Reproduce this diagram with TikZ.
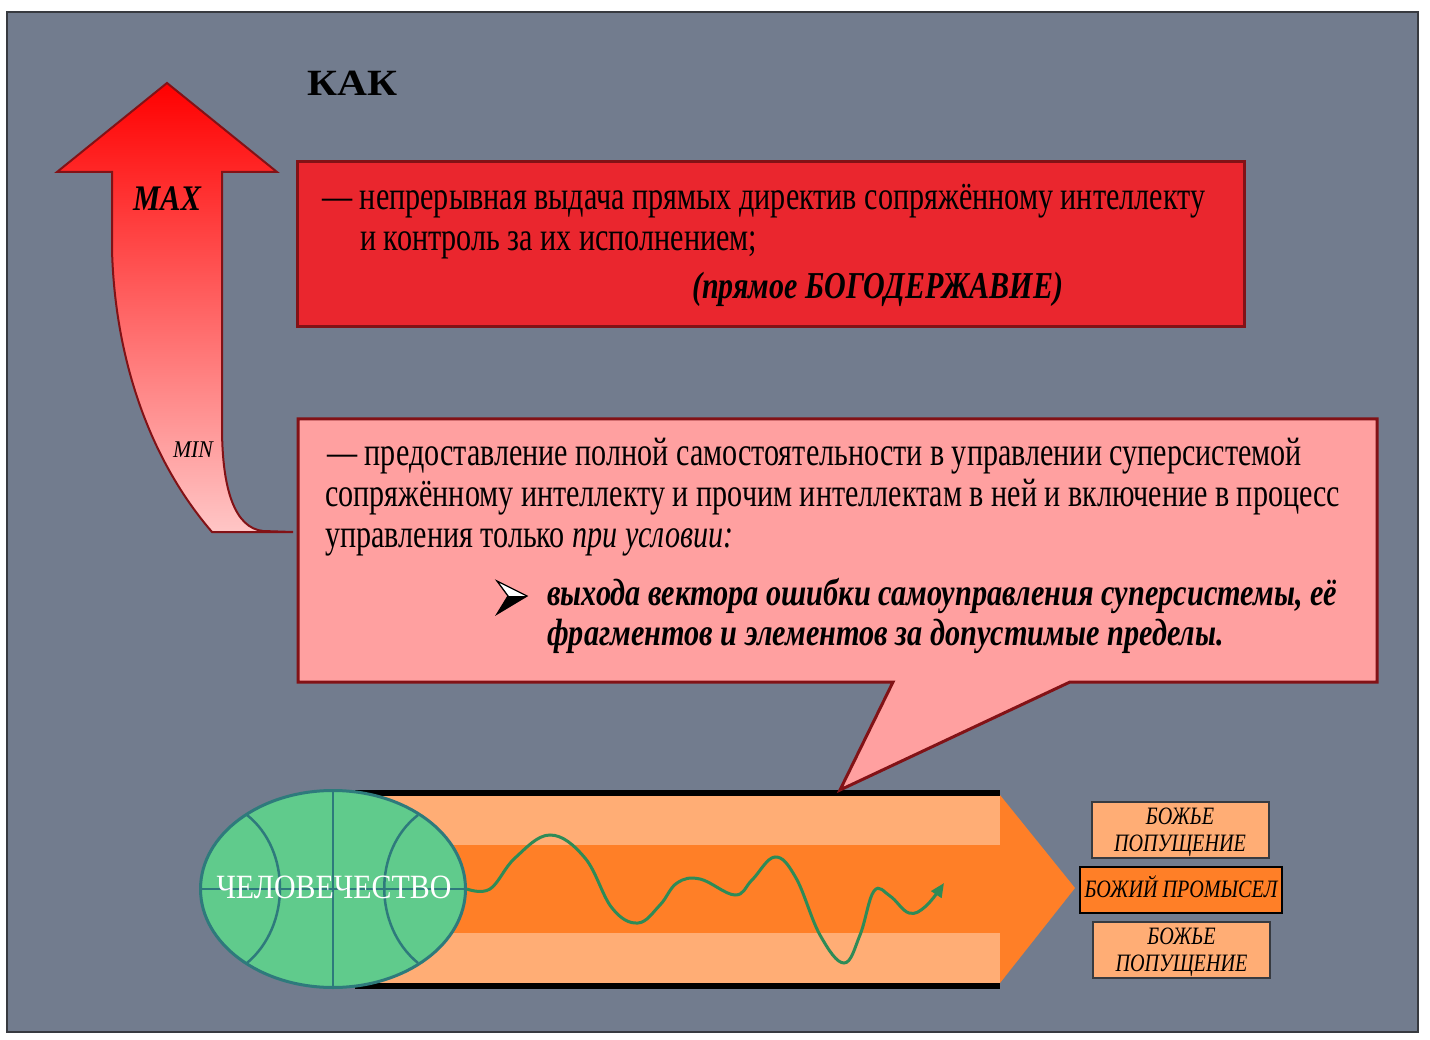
\documentclass[tikz,border=0pt]{standalone}
\usepackage{fontspec}
\setmainfont{Liberation Serif}
\usepackage{graphicx}
\usetikzlibrary{shapes.geometric,arrows.meta}
\definecolor{bggray}{RGB}{114,124,142}
\definecolor{frame}{RGB}{55,58,64}
\definecolor{boxred}{RGB}{234,38,46}
\definecolor{darkred}{RGB}{130,18,22}
\definecolor{boxpink}{RGB}{255,160,160}
\definecolor{lorange}{RGB}{255,173,117}
\definecolor{dorange}{RGB}{255,127,39}
\definecolor{humfill}{RGB}{96,203,140}
\definecolor{humline}{RGB}{46,122,124}
\definecolor{wavegreen}{RGB}{46,139,87}
\definecolor{arrtop}{RGB}{255,0,0}
\definecolor{arrbot}{RGB}{255,198,198}
\newlength\wtmp
\newcommand\mkratio[4]{\settowidth\wtmp{\normalfont#3#4}\pgfmathsetmacro\mytmpval{#2/\wtmp}\global\let#1\mytmpval}
\newcommand\lineRA{— непрерывная выдача прямых директив сопряжённому интеллекту}
\newcommand\linePB{сопряжённому интеллекту и прочим интеллектам в ней и включение в процесс}
\newcommand\linePD{выхода вектора ошибки самоуправления суперсистемы, её}
\newcommand\fbody{\fontsize{40}{41}\selectfont}
\newcommand\fbit{\fontsize{38}{41}\selectfont\bfseries\itshape}
\newcommand\fsmall{\fontsize{25}{27}\selectfont\itshape}
\begin{document}
\mkratio{\ratioR}{883}{\fbody}{\lineRA}%
\mkratio{\ratioP}{1015}{\fbody}{\linePB}%
\mkratio{\ratioB}{790}{\fbit}{\linePD}%
\mkratio{\ratioS}{193}{\fsmall}{БОЖИЙ ПРОМЫСЕЛ}%
\begin{tikzpicture}[x=1pt,y=-1pt,
  txtline/.style={anchor=base west, inner sep=0, text=black, font=\fbody},
  bitline/.style={anchor=base west, inner sep=0, text=black, font=\fbit},
  panel/.style={draw=darkred, line width=3pt, line join=miter},
  sidebox/.style={fill=lorange, draw=frame, line width=1.5pt, minimum width=177pt, minimum height=56pt, inner sep=0},
  sidetxt/.style={anchor=base, inner sep=0, font=\fsmall, text=black},
  wave/.style={draw=wavegreen, line width=3pt}]
\useasboundingbox (0,0) rectangle (1430,1040);
\fill[white] (0,0) rectangle (1430,1040);
\draw[fill=bggray, draw=frame, line width=1.5pt] (7,12) rectangle (1418,1032);

% title
\node[anchor=base west, inner sep=0, font=\fontsize{37}{40}\selectfont\bfseries] (kak) at (307,96) {\resizebox{90pt}{\height}{КАК}};

% left gradient arrow
\path[top color=arrtop, bottom color=arrbot, draw=darkred, line width=2pt, line join=miter]
  (167,83) -- (277,172) -- (222,172) -- (222,427)
  .. controls (222,490) and (235,528) .. (263,531) -- (293,532) -- (212,532)
  .. controls (150,460) and (115,360) .. (112,250) -- (112,172) -- (57,172) -- cycle;
\node[anchor=base, inner sep=0, font=\fontsize{36}{40}\selectfont\bfseries\itshape] (max) at (167,211) {\resizebox{68pt}{\height}{MAX}};
\node[anchor=base, inner sep=0, font=\fontsize{24}{26}\selectfont\itshape] (min) at (193,457) {\resizebox{40pt}{\height}{MIN}};

% red panel
\path[panel, fill=boxred] (297,162) rectangle (1244,327);
\node[txtline] (ra) at (322,210) {\scalebox{\ratioR}[1]{\lineRA}};
\node[txtline] (rb) at (360,251) {\scalebox{\ratioR}[1]{и контроль за их исполнением;}};
\node[bitline] (rc) at (692,299) {\resizebox{371pt}{\height}{(прямое БОГОДЕРЖАВИЕ)}};

% band (arrow) at the bottom
\fill[dorange] (355,795) -- (1000,795) -- (1075,888) -- (1000,983) -- (355,983) -- cycle;
\fill[lorange] (355,796) rectangle (1000,845);
\fill[lorange] (355,933) rectangle (1000,983);
\fill[black] (355,790) rectangle (1000,796);
\fill[black] (355,983) rectangle (1000,989);

% pink callout
\path[panel, fill=boxpink] (298,419) -- (1377,419) -- (1377,682) -- (1070,682) -- (840,790) -- (893,682) -- (298,682) -- cycle;
\node[txtline] (pa) at (327,465) {\scalebox{\ratioP}[1]{— предоставление полной самостоятельности в управлении суперсистемой}};
\node[txtline] (pb) at (325,506) {\scalebox{\ratioP}[1]{\linePB}};
\node[txtline] (pc) at (325,547) {\scalebox{\ratioP}[1]{управления только \textit{при условии:}}};
\fill[white] (497,581) -- (527,596) -- (508,596) -- cycle;
\fill[black] (508,596) -- (527,596) -- (497,614) -- cycle;
\draw[black, line width=1.3pt, line join=miter] (497,581) -- (527,596) -- (497,614) -- (508,596) -- cycle;
\node[bitline] (pd) at (547,605) {\scalebox{\ratioB}[1]{\linePD}};
\node[bitline] (pe) at (547,645) {\scalebox{\ratioB}[1]{фрагментов и элементов за допустимые пределы.}};

% humanity ball
\node[ellipse, fill=humfill, draw=humline, line width=3pt, minimum width=265pt, minimum height=197pt, inner sep=0] (hum) at (333,889) {};
\draw[humline, line width=2.5pt] (hum.north) -- (hum.south);
\draw[humline, line width=2.5pt] (hum.west) -- (hum.east);
\draw[humline, line width=2.5pt] (247,815) .. controls (291,850) and (291,926) .. (247,963);
\draw[humline, line width=2.5pt] (418,815) .. controls (373,850) and (373,926) .. (418,963);
\node[anchor=base, inner sep=0, text=white, font=\fontsize{34}{36}\selectfont] (humtxt) at (334,898) {\resizebox{235pt}{\height}{ЧЕЛОВЕЧЕСТВО}};

% wave
\coordinate (waveend) at (944,883);
\draw[wave, -{Triangle[length=14pt,width=12pt]}] plot[smooth, tension=0.65] coordinates {
 (hum.east) (490,889) (515,858) (550,835) (585,858) (612,908) (638,923) (660,905)
 (677,883) (700,879) (735,895) (752,880) (775,857) (796,878) (820,935) (844,963)
 (860,935) (874,891) (890,896) (909,913) (926,906) (waveend)};

% side boxes
\node[sidebox] (top) at (1180.5,830) {};
\node[sidetxt] (topa) at (1180,824) {\scalebox{\ratioS}[1]{БОЖЬЕ}};
\node[sidetxt] (topb) at (1180,851) {\scalebox{\ratioS}[1]{ПОПУЩЕНИЕ}};
\node[sidebox, fill=dorange, draw=black, line width=2.5pt, minimum width=202pt, minimum height=46pt] (mid) at (1181,890) {};
\node[sidetxt] (midt) at (1181,897) {\scalebox{\ratioS}[1]{БОЖИЙ ПРОМЫСЕЛ}};
\node[sidebox] (bot) at (1181.5,950) {};
\node[sidetxt] (bota) at (1181.5,944) {\scalebox{\ratioS}[1]{БОЖЬЕ}};
\node[sidetxt] (botb) at (1181.5,971) {\scalebox{\ratioS}[1]{ПОПУЩЕНИЕ}};
\end{tikzpicture}
\end{document}
